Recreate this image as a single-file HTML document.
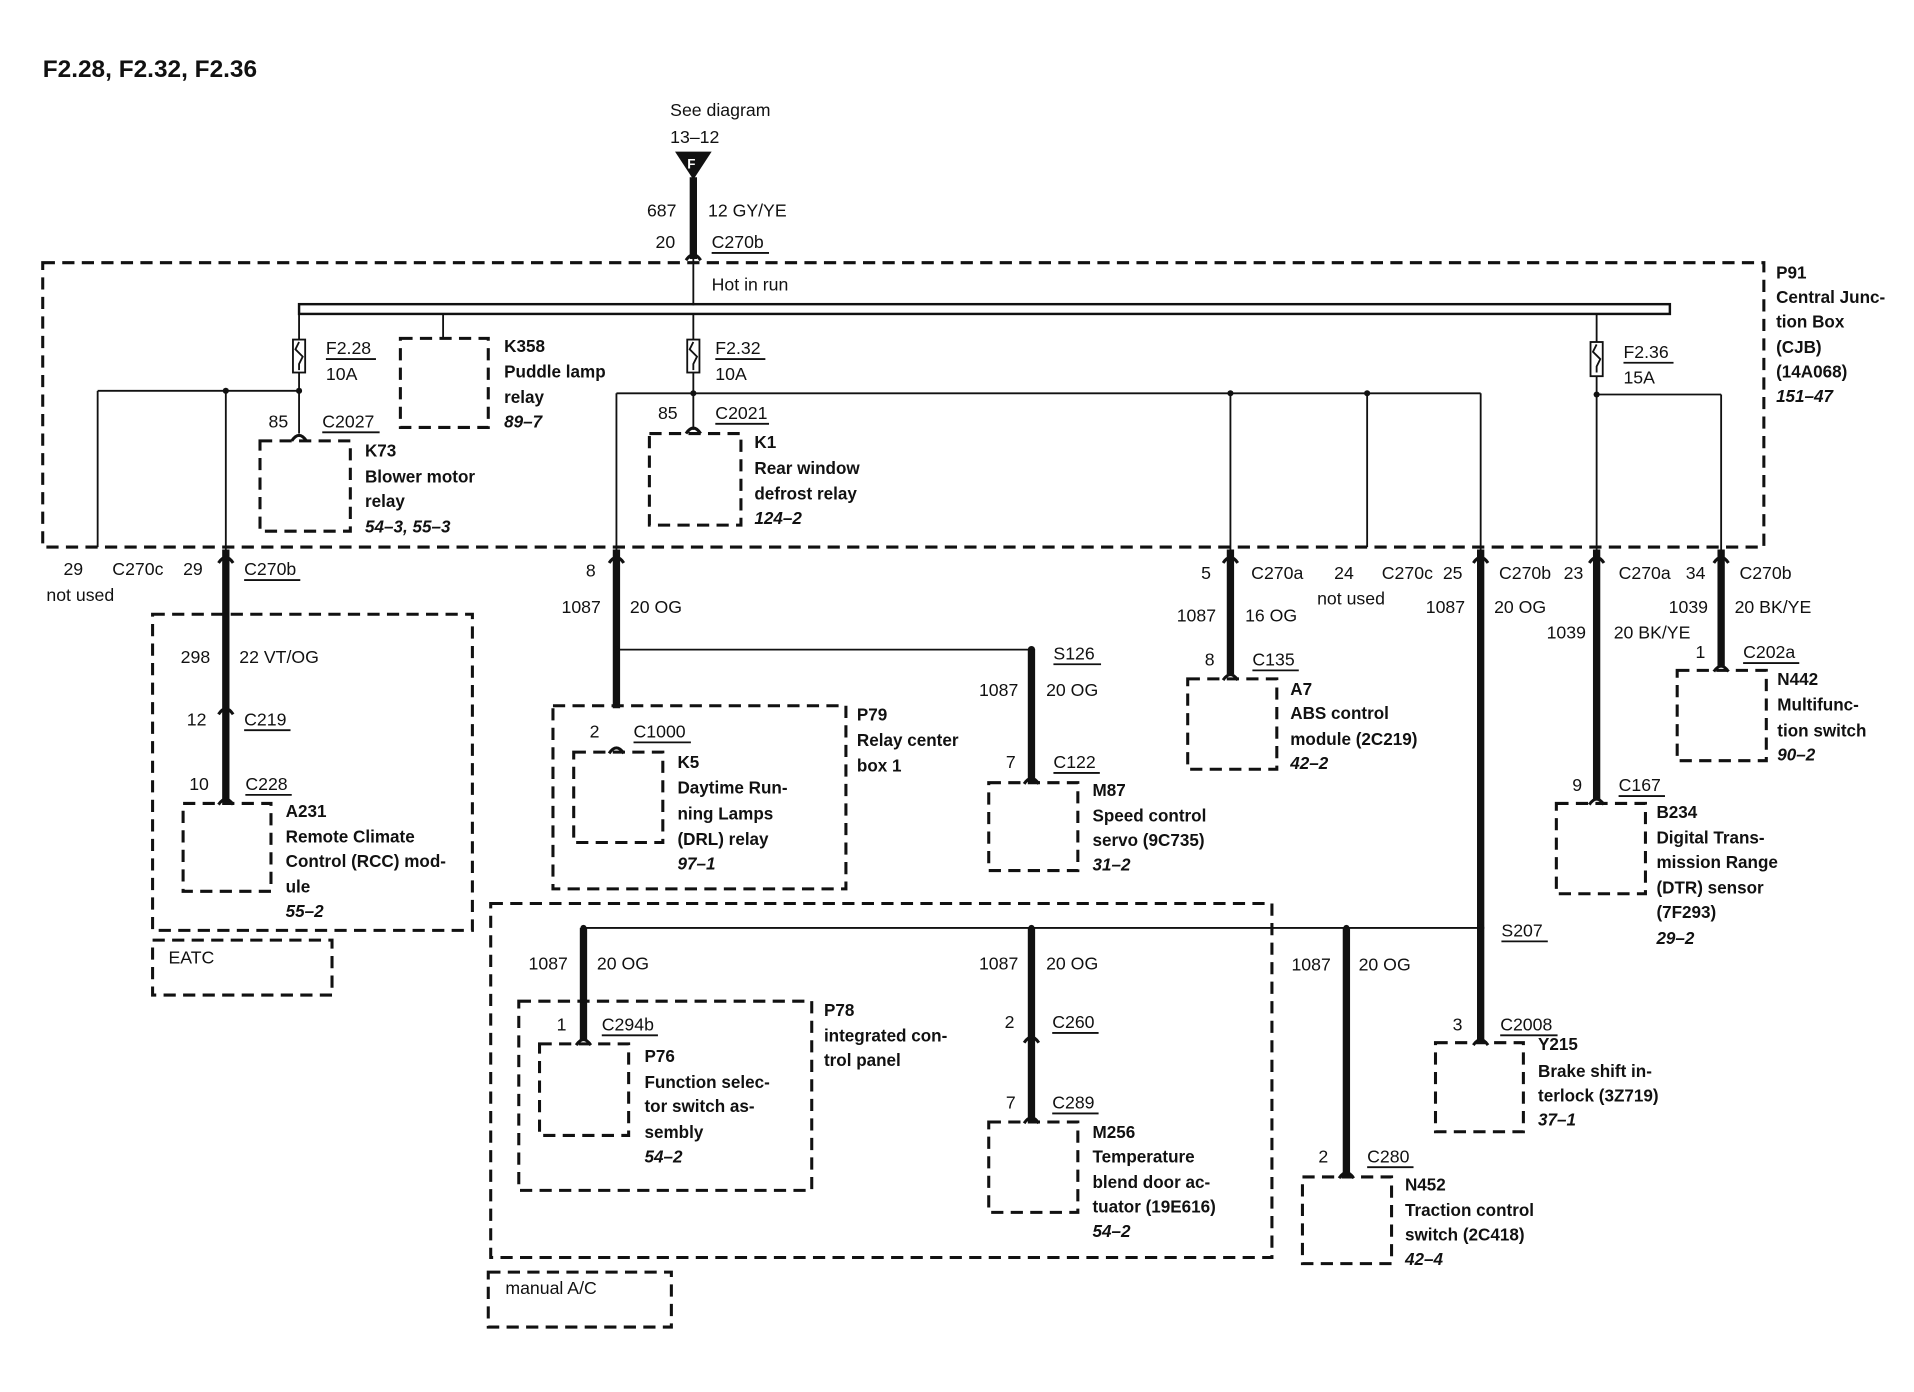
<!DOCTYPE html>
<html><head><meta charset="utf-8"><style>
html,body{margin:0;padding:0;background:#fff}
svg{display:block}
text{font-family:"Liberation Sans",Arial,sans-serif;font-size:14.5px;fill:#111}
.b{font-weight:bold;font-size:14px}
.i{font-style:italic;font-weight:bold;font-size:14px}
.d{fill:none;stroke:#111;stroke-width:2.5;stroke-dasharray:10,6}
.t{stroke:#111;stroke-width:1.5;fill:none}
.k{stroke:#111;stroke-width:6;fill:none}
</style></head><body>
<svg width="1914" height="1392" viewBox="0 0 1568 1140" xmlns="http://www.w3.org/2000/svg">
<defs>
<g id="cn"><path d="M-6,3 Q0,-6 6,3" stroke="#111" stroke-width="2.5" fill="none"/></g>
</defs>
<text x="35" y="63" style="font-size:20px;font-weight:bold">F2.28, F2.32, F2.36</text>

<text x="549" y="95">See diagram</text>
<text x="549" y="117">13–12</text>
<polygon points="553,124 583,124 568,147" fill="#111"/>
<text x="563" y="138" style="fill:#fff;font-size:11px;font-weight:bold">F</text>
<line x1="568" y1="145" x2="568" y2="212" class="k"/>
<line x1="568" y1="212" x2="568" y2="250" class="t"/>
<use href="#cn" x="568" y="210"/>
<text x="530" y="177">687</text><text x="580" y="177">12 GY/YE</text>
<text x="537" y="203">20</text><text x="583" y="203">C270b</text><line x1="583" y1="207" x2="630" y2="207" class="t"/>

<rect x="35" y="215" width="1410" height="233" class="d"/>
<text x="583" y="238">Hot in run</text>
<rect x="245" y="249" width="1123" height="8" fill="none" stroke="#111" stroke-width="2"/>
<text x="1455" y="228" class="b">P91</text>
<text x="1455" y="248" class="b">Central Junc-</text>
<text x="1455" y="268" class="b">tion Box</text>
<text x="1455" y="289" class="b">(CJB)</text>
<text x="1455" y="309" class="b">(14A068)</text>
<text x="1455" y="329" class="i">151–47</text>

<line x1="245" y1="257" x2="245" y2="355" class="t"/>
<rect x="240" y="278" width="10" height="27" fill="#fff" stroke="#111" stroke-width="1.5"/>
<path d="M245,280 l-3,6 6,6 -3,6 0,5" class="t"/>
<text x="267" y="290">F2.28</text><line x1="267" y1="294" x2="308" y2="294" class="t"/>
<text x="267" y="311">10A</text>
<line x1="80" y1="320" x2="245" y2="320" class="t"/>
<circle cx="185" cy="320" r="2.5" fill="#111"/><circle cx="245" cy="320" r="2.5" fill="#111"/>
<line x1="80" y1="320" x2="80" y2="448" class="t"/>
<line x1="185" y1="320" x2="185" y2="450" class="t"/>
<line x1="185" y1="450" x2="185" y2="657" class="k"/>
<use href="#cn" x="185" y="458"/>
<text x="220" y="350">85</text><text x="264" y="350">C2027</text><line x1="264" y1="354" x2="311" y2="354" class="t"/>
<use href="#cn" x="245" y="358"/>
<rect x="213" y="361" width="74" height="74" class="d"/>
<text x="299" y="374" class="b">K73</text>
<text x="299" y="395" class="b">Blower motor</text>
<text x="299" y="415" class="b">relay</text>
<text x="299" y="436" class="i">54–3, 55–3</text>

<line x1="363" y1="257" x2="363" y2="277" class="t"/>
<rect x="328" y="277" width="72" height="73" class="d"/>
<text x="413" y="288" class="b">K358</text>
<text x="413" y="309" class="b">Puddle lamp</text>
<text x="413" y="330" class="b">relay</text>
<text x="413" y="350" class="i">89–7</text>

<line x1="568" y1="257" x2="568" y2="352" class="t"/>
<rect x="563" y="278" width="10" height="27" fill="#fff" stroke="#111" stroke-width="1.5"/>
<path d="M568,280 l-3,6 6,6 -3,6 0,5" class="t"/>
<text x="586" y="290">F2.32</text><line x1="586" y1="294" x2="627" y2="294" class="t"/>
<text x="586" y="311">10A</text>
<line x1="505" y1="322" x2="1213" y2="322" class="t"/>
<circle cx="568" cy="322" r="2.5" fill="#111"/><circle cx="1008" cy="322" r="2.5" fill="#111"/><circle cx="1120" cy="322" r="2.5" fill="#111"/>
<line x1="505" y1="322" x2="505" y2="450" class="t"/>
<line x1="1008" y1="322" x2="1008" y2="450" class="t"/>
<line x1="1120" y1="322" x2="1120" y2="448" class="t"/>
<line x1="1213" y1="322" x2="1213" y2="450" class="t"/>
<text x="539" y="343">85</text><text x="586" y="343">C2021</text><line x1="586" y1="347" x2="630" y2="347" class="t"/>
<use href="#cn" x="568" y="352"/>
<rect x="532" y="355" width="75" height="75" class="d"/>
<text x="618" y="367" class="b">K1</text>
<text x="618" y="388" class="b">Rear window</text>
<text x="618" y="409" class="b">defrost relay</text>
<text x="618" y="429" class="i">124–2</text>

<line x1="1308" y1="257" x2="1308" y2="450" class="t"/>
<rect x="1303" y="280" width="10" height="28" fill="#fff" stroke="#111" stroke-width="1.5"/>
<path d="M1308,282 l-3,6 6,6 -3,6 0,5" class="t"/>
<text x="1330" y="293">F2.36</text><line x1="1330" y1="297" x2="1371" y2="297" class="t"/>
<text x="1330" y="314">15A</text>
<line x1="1308" y1="323" x2="1410" y2="323" class="t"/>
<circle cx="1308" cy="323" r="2.5" fill="#111"/>
<line x1="1410" y1="323" x2="1410" y2="450" class="t"/>

<line x1="505" y1="450" x2="505" y2="580" class="k"/><use href="#cn" x="505" y="458"/>
<line x1="1008" y1="450" x2="1008" y2="552" class="k"/><use href="#cn" x="1008" y="458"/>
<line x1="1213" y1="450" x2="1213" y2="855" class="k"/><use href="#cn" x="1213" y="458"/>
<line x1="1308" y1="450" x2="1308" y2="655" class="k"/><use href="#cn" x="1308" y="458"/>
<line x1="1410" y1="450" x2="1410" y2="546" class="k"/><use href="#cn" x="1410" y="458"/>

<text x="52" y="471">29</text><text x="92" y="471">C270c</text>
<text x="150" y="471">29</text><text x="200" y="471">C270b</text><line x1="200" y1="475" x2="246" y2="475" class="t"/>
<text x="38" y="492">not used</text>
<text x="480" y="472">8</text>
<text x="984" y="474">5</text><text x="1025" y="474">C270a</text>
<text x="1093" y="474">24</text><text x="1132" y="474">C270c</text><text x="1182" y="474">25</text>
<text x="1228" y="474">C270b</text>
<text x="1281" y="474">23</text><text x="1326" y="474">C270a</text>
<text x="1381" y="474">34</text><text x="1425" y="474">C270b</text>
<text x="1079" y="495">not used</text>
<text x="460" y="502">1087</text><text x="516" y="502">20 OG</text>
<text x="964" y="509">1087</text><text x="1020" y="509">16 OG</text>
<text x="1168" y="502">1087</text><text x="1224" y="502">20 OG</text>
<text x="1367" y="502">1039</text><text x="1421" y="502">20 BK/YE</text>
<text x="1267" y="523">1039</text><text x="1322" y="523">20 BK/YE</text>

<rect x="125" y="503" width="262" height="259" class="d"/>
<text x="148" y="543">298</text><text x="196" y="543">22 VT/OG</text>
<text x="153" y="594">12</text><text x="200" y="594">C219</text><line x1="200" y1="598" x2="238" y2="598" class="t"/>
<use href="#cn" x="185" y="582"/>
<text x="155" y="647">10</text><text x="201" y="647">C228</text><line x1="201" y1="651" x2="239" y2="651" class="t"/>
<use href="#cn" x="185" y="656"/>
<rect x="150" y="658" width="72" height="72" class="d"/>
<text x="234" y="669" class="b">A231</text>
<text x="234" y="690" class="b">Remote Climate</text>
<text x="234" y="710" class="b">Control (RCC) mod-</text>
<text x="234" y="731" class="b">ule</text>
<text x="234" y="751" class="i">55–2</text>
<rect x="125" y="770" width="147" height="45" class="d"/>
<text x="138" y="789">EATC</text>

<circle cx="505" cy="532" r="2.5" fill="#111"/>
<line x1="505" y1="532" x2="845" y2="532" class="t"/>
<circle cx="845" cy="532" r="3" fill="#111"/>
<text x="863" y="540">S126</text><line x1="863" y1="544" x2="902" y2="544" class="t"/>
<rect x="453" y="578" width="240" height="150" class="d"/>
<text x="483" y="604">2</text><text x="519" y="604">C1000</text><line x1="519" y1="608" x2="566" y2="608" class="t"/>
<use href="#cn" x="505" y="614"/>
<rect x="470" y="616" width="73" height="74" class="d"/>
<text x="555" y="629" class="b">K5</text>
<text x="555" y="650" class="b">Daytime Run-</text>
<text x="555" y="671" class="b">ning Lamps</text>
<text x="555" y="692" class="b">(DRL) relay</text>
<text x="555" y="712" class="i">97–1</text>
<text x="702" y="590" class="b">P79</text>
<text x="702" y="611" class="b">Relay center</text>
<text x="702" y="632" class="b">box 1</text>

<line x1="845" y1="532" x2="845" y2="640" class="k"/>
<text x="802" y="570">1087</text><text x="857" y="570">20 OG</text>
<text x="824" y="629">7</text><text x="863" y="629">C122</text><line x1="863" y1="633" x2="901" y2="633" class="t"/>
<use href="#cn" x="845" y="639"/>
<rect x="810" y="641" width="73" height="72" class="d"/>
<text x="895" y="652" class="b">M87</text>
<text x="895" y="673" class="b">Speed control</text>
<text x="895" y="693" class="b">servo (9C735)</text>
<text x="895" y="713" class="i">31–2</text>

<text x="987" y="545">8</text><text x="1026" y="545">C135</text><line x1="1026" y1="549" x2="1064" y2="549" class="t"/>
<use href="#cn" x="1008" y="554"/>
<rect x="973" y="556" width="73" height="74" class="d"/>
<text x="1057" y="569" class="b">A7</text>
<text x="1057" y="589" class="b">ABS control</text>
<text x="1057" y="610" class="b">module (2C219)</text>
<text x="1057" y="630" class="i">42–2</text>

<text x="1389" y="539">1</text><text x="1428" y="539">C202a</text><line x1="1428" y1="543" x2="1474" y2="543" class="t"/>
<use href="#cn" x="1410" y="547"/>
<rect x="1374" y="549" width="73" height="74" class="d"/>
<text x="1456" y="561" class="b">N442</text>
<text x="1456" y="582" class="b">Multifunc-</text>
<text x="1456" y="603" class="b">tion switch</text>
<text x="1456" y="623" class="i">90–2</text>

<text x="1288" y="648">9</text><text x="1326" y="648">C167</text><line x1="1326" y1="652" x2="1364" y2="652" class="t"/>
<use href="#cn" x="1308" y="656"/>
<rect x="1275" y="658" width="73" height="74" class="d"/>
<text x="1357" y="670" class="b">B234</text>
<text x="1357" y="691" class="b">Digital Trans-</text>
<text x="1357" y="711" class="b">mission Range</text>
<text x="1357" y="732" class="b">(DTR) sensor</text>
<text x="1357" y="752" class="b">(7F293)</text>
<text x="1357" y="773" class="i">29–2</text>

<rect x="402" y="740" width="640" height="290" class="d"/>
<rect x="400" y="1042" width="150" height="45" class="d"/>
<text x="414" y="1060">manual A/C</text>
<line x1="478" y1="760" x2="1213" y2="760" class="t"/>
<circle cx="478" cy="760" r="2.5" fill="#111"/><circle cx="845" cy="760" r="2.5" fill="#111"/>
<circle cx="1103" cy="760" r="2.5" fill="#111"/><circle cx="1213" cy="760" r="3" fill="#111"/>
<text x="1230" y="767">S207</text><line x1="1230" y1="771" x2="1268" y2="771" class="t"/>
<line x1="478" y1="760" x2="478" y2="852" class="k"/>
<line x1="845" y1="760" x2="845" y2="918" class="k"/>
<line x1="1103" y1="760" x2="1103" y2="963" class="k"/>
<text x="433" y="794">1087</text><text x="489" y="794">20 OG</text>
<text x="802" y="794">1087</text><text x="857" y="794">20 OG</text>
<text x="1058" y="795">1087</text><text x="1113" y="795">20 OG</text>

<rect x="425" y="820" width="240" height="155" class="d"/>
<text x="456" y="844">1</text><text x="493" y="844">C294b</text><line x1="493" y1="848" x2="539" y2="848" class="t"/>
<use href="#cn" x="478" y="853"/>
<rect x="442" y="855" width="73" height="75" class="d"/>
<text x="528" y="870" class="b">P76</text>
<text x="528" y="891" class="b">Function selec-</text>
<text x="528" y="911" class="b">tor switch as-</text>
<text x="528" y="932" class="b">sembly</text>
<text x="528" y="952" class="i">54–2</text>
<text x="675" y="832" class="b">P78</text>
<text x="675" y="853" class="b">integrated con-</text>
<text x="675" y="873" class="b">trol panel</text>

<text x="823" y="842">2</text><text x="862" y="842">C260</text><line x1="862" y1="846" x2="900" y2="846" class="t"/>
<use href="#cn" x="845" y="851"/>
<text x="824" y="908">7</text><text x="862" y="908">C289</text><line x1="862" y1="912" x2="900" y2="912" class="t"/>
<use href="#cn" x="845" y="917"/>
<rect x="810" y="919" width="73" height="74" class="d"/>
<text x="895" y="932" class="b">M256</text>
<text x="895" y="952" class="b">Temperature</text>
<text x="895" y="973" class="b">blend door ac-</text>
<text x="895" y="993" class="b">tuator (19E616)</text>
<text x="895" y="1013" class="i">54–2</text>

<text x="1190" y="844">3</text><text x="1229" y="844">C2008</text><line x1="1229" y1="848" x2="1276" y2="848" class="t"/>
<use href="#cn" x="1213" y="853"/>
<rect x="1176" y="854" width="72" height="73" class="d"/>
<text x="1260" y="860" class="b">Y215</text>
<text x="1260" y="882" class="b">Brake shift in-</text>
<text x="1260" y="902" class="b">terlock (3Z719)</text>
<text x="1260" y="922" class="i">37–1</text>

<text x="1080" y="952">2</text><text x="1120" y="952">C280</text><line x1="1120" y1="956" x2="1158" y2="956" class="t"/>
<use href="#cn" x="1103" y="962"/>
<rect x="1067" y="964" width="73" height="71" class="d"/>
<text x="1151" y="975" class="b">N452</text>
<text x="1151" y="996" class="b">Traction control</text>
<text x="1151" y="1016" class="b">switch (2C418)</text>
<text x="1151" y="1036" class="i">42–4</text>
</svg>
</body></html>
